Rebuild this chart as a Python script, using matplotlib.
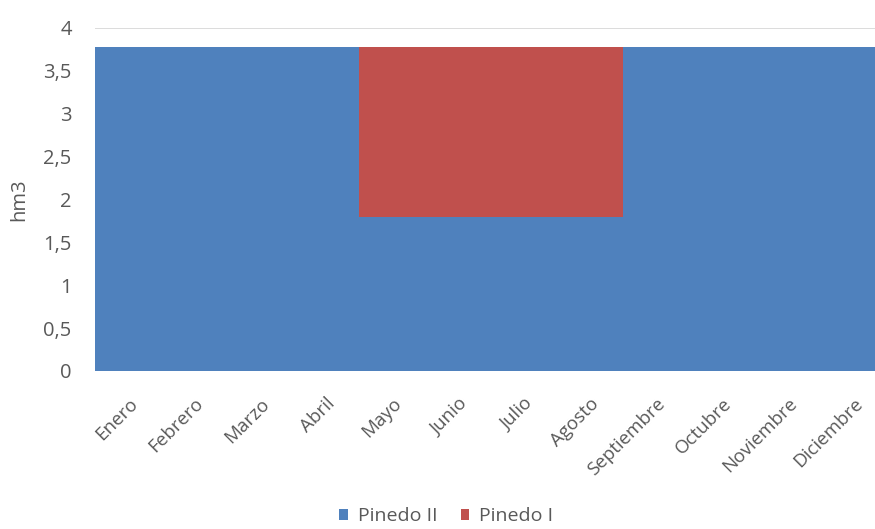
import numpy as np
import matplotlib.pyplot as plt

months = ["Enero", "Febrero", "Marzo", "Abril", "Mayo", "Junio", "Julio",
          "Agosto", "Septiembre", "Octubre", "Noviembre", "Diciembre"]
pinedo_ii = [3.78, 3.78, 3.78, 3.78, 1.79, 1.79, 1.79, 1.79, 3.78, 3.78, 3.78, 3.78]
pinedo_i = [0, 0, 0, 0, 1.99, 1.99, 1.99, 1.99, 0, 0, 0, 0]

plt.rcParams['font.family'] = ['Open Sans', 'DejaVu Sans']

fig = plt.figure(figsize=(8.75, 5.29), dpi=100)
ax = fig.add_axes([0.1089, 0.2987, 0.9048, 0.6484])

x = np.arange(len(months))
ax.bar(x, pinedo_ii, width=1.0, color="#4F81BD", label="Pinedo II", zorder=2)
ax.bar(x, pinedo_i, width=1.0, bottom=pinedo_ii, color="#C0504D", label="Pinedo I", zorder=2)

ax.set_xlim(-0.5, len(months) - 0.5)
ax.set_ylim(0, 4)
ax.set_yticks(np.arange(0, 4.01, 0.5))
ax.set_yticklabels(["0", "0,5", "1", "1,5", "2", "2,5", "3", "3,5", "4"])
ax.yaxis.grid(True, color="#d9d9d9", linewidth=1.3, zorder=0)
ax.set_axisbelow(True)

ax.set_xticks(x)
ax.set_xticklabels(months, rotation=45, ha='right', rotation_mode='anchor')
ax.tick_params(axis='x', length=0, pad=17, labelsize=13.5, labelcolor="#595959")
ax.tick_params(axis='y', length=0, pad=17, labelsize=14.5, labelcolor="#595959")

for s in ax.spines.values():
    s.set_visible(False)

ax.set_ylabel("hm3", fontsize=14.5, color="#595959", labelpad=10)

handles, labels = ax.get_legend_handles_labels()
fig.legend(handles, labels, loc='center', bbox_to_anchor=(0.51, 0.024), ncol=2,
           frameon=False, fontsize=14, handlelength=0.45, handleheight=0.45,
           columnspacing=1.2, handletextpad=0.5, labelcolor="#595959",
           borderpad=0.1)

fig.savefig("out.png", dpi=100)
